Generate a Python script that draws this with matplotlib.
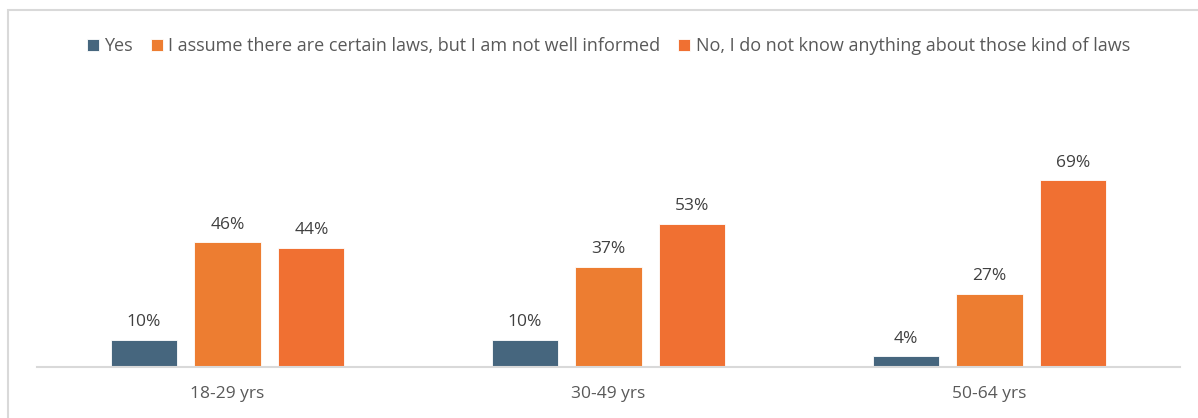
import matplotlib.pyplot as plt
import numpy as np
from matplotlib.patches import Rectangle

plt.rcParams['font.family'] = ['Open Sans', 'DejaVu Sans']

groups = ['18-29 yrs', '30-49 yrs', '50-64 yrs']
series_names = ['Yes',
                'I assume there are certain laws, but I am not well informed',
                'No, I do not know anything about those kind of laws']
yes_vals = [10, 10, 4]
assume_vals = [46, 37, 27]
no_vals = [44, 53, 69]
colors = ['#46667E', '#ED7D31', '#F07032']

fig = plt.figure(figsize=(11.98, 4.18), dpi=100)
ax = fig.add_axes([37 / 1198, (418 - 367) / 418, (1180 - 37) / 1198, (367 - 80) / 418])

x = np.arange(len(groups))
width = 0.174
step = 0.22
for i, (vals, name, c) in enumerate(zip([yes_vals, assume_vals, no_vals], series_names, colors)):
    pos = x + (i - 1) * step
    bars = ax.bar(pos, vals, width, color=c, label=name, edgecolor='white', linewidth=0.6)
    for b, v in zip(bars, vals):
        ax.text(b.get_x() + b.get_width() / 2, v + 3.5, f'{v}%', ha='center', va='bottom',
                fontsize=12.5, color='#404040')

ax.set_xlim(-0.5, 2.5)
ax.set_ylim(0, 106)
ax.set_yticks([])
ax.set_xticks(x)
ax.set_xticklabels(groups, fontsize=12.5, color='#595959')
ax.tick_params(axis='x', length=0, pad=14)
for s in ['top', 'right', 'left']:
    ax.spines[s].set_visible(False)
ax.spines['bottom'].set_color('#D9D9D9')
ax.spines['bottom'].set_linewidth(1.5)

leg = fig.legend(loc='center', bbox_to_anchor=(0.508, 1 - 46 / 418), ncol=3, frameon=False,
                 fontsize=13, handlelength=0.65, handleheight=0.65, handletextpad=0.3,
                 columnspacing=1.0, labelcolor='#595959')

fig.patches.append(Rectangle((8 / 1198, -0.01), 1.02, 1 - 10 / 418 + 0.01, transform=fig.transFigure,
                             fill=False, edgecolor='#D9D9D9', linewidth=1.5))

fig.savefig('out.png', dpi=100)
